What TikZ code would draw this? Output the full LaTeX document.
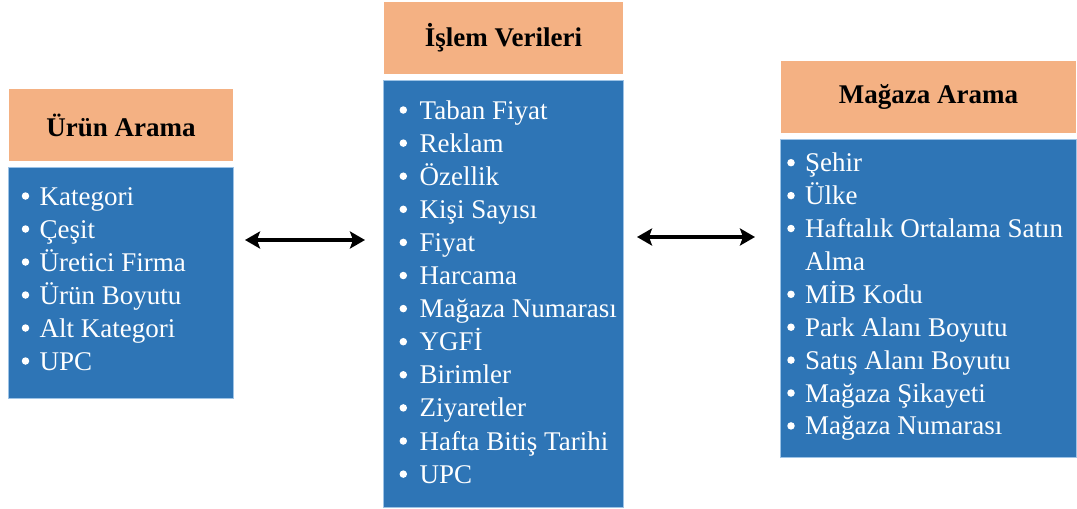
\documentclass[tikz,border=0pt]{standalone}
\usepackage{fontspec}
\setmainfont{LiberationSerif}[Extension=.ttf, UprightFont=*-Regular, BoldFont=*-Bold, ItalicFont=*-Italic, BoldItalicFont=*-BoldItalic]
\usetikzlibrary{arrows.meta}
\definecolor{hdrfill}{HTML}{F4B183}
\definecolor{bodyfill}{HTML}{2E75B6}
\definecolor{bodyedge}{HTML}{9DC3E6}
\begin{document}
\begin{tikzpicture}[x=1pt,y=-1pt,
  hdrbox/.style={fill=hdrfill, draw=white, line width=1pt, anchor=north west,
    font=\fontsize{27}{33}\selectfont\bfseries, text=black, inner sep=0pt},
  bodybox/.style={fill=bodyfill, draw=bodyedge, line width=0.8pt, anchor=north west, inner sep=0pt},
  bul/.style={circle, fill=white, inner sep=0pt, minimum size=7.5pt},
  itemtext/.style={font=\fontsize{27}{33}\selectfont, text=white, anchor=base west, inner sep=0pt},
  link/.style={line width=3.2pt, {Stealth[length=15pt,width=17pt,inset=3pt]}-{Stealth[length=15pt,width=17pt,inset=3pt]}}
]
\useasboundingbox (0,0) rectangle (1077,509);

% Product search
\node[hdrbox, minimum width=225pt, minimum height=73pt] (lh) at (8,88) {Ürün Arama};
\node[bodybox, minimum width=225pt, minimum height=231pt] (lb) at (8,167) {};
\foreach \t [count=\i] in {Kategori, Çeşit, Üretici Firma, Ürün Boyutu, Alt Kategori, UPC} {
  \node[bul] (lbul\i) at (25.5,{196+33*(\i-1)}) {};
  \node[itemtext] (lit\i) at (39.5,{205+33*(\i-1)}) {\t};
}

% Transaction data
\node[hdrbox, minimum width=240pt, minimum height=73pt] (mh) at (383,1) {İşlem Verileri};
\node[bodybox, minimum width=240pt, minimum height=427pt] (mb) at (383,80) {};
\foreach \t [count=\i] in {Taban Fiyat, Reklam, Özellik, Kişi Sayısı, Fiyat, Harcama,
    Mağaza Numarası, YGFİ, Birimler, Ziyaretler, Hafta Bitiş Tarihi, UPC} {
  \node[bul] (mbul\i) at (403.3,{110+33.1*(\i-1)}) {};
  \node[itemtext] (mit\i) at (419.5,{119+33.1*(\i-1)}) {\t};
}

% Store search
\node[hdrbox, minimum width=296pt, minimum height=73pt] (rh) at (780,60) {Mağaza Arama};
\node[bodybox, minimum width=296pt, minimum height=318pt] (rb) at (780,139) {};
\foreach \t/\b [count=\i] in {Şehir/1, Ülke/1, Haftalık Ortalama Satın/1, Alma/0, MİB Kodu/1,
    Park Alanı Boyutu/1, Satış Alanı Boyutu/1, Mağaza Şikayeti/1, Mağaza Numarası/1} {
  \ifnum\b=1 \node[bul] (rbul\i) at (791,{162.7+32.9*(\i-1)}) {};\fi
  \node[itemtext] (rit\i) at (805,{171.7+32.9*(\i-1)}) {\t};
}

% Connectors
\coordinate (a1s) at (245,240);
\coordinate (a1e) at (365,240);
\coordinate (a2s) at (637,237);
\coordinate (a2e) at (755,237);
\draw[link] (a1s) -- (a1e);
\draw[link] (a2s) -- (a2e);
\end{tikzpicture}
\end{document}
